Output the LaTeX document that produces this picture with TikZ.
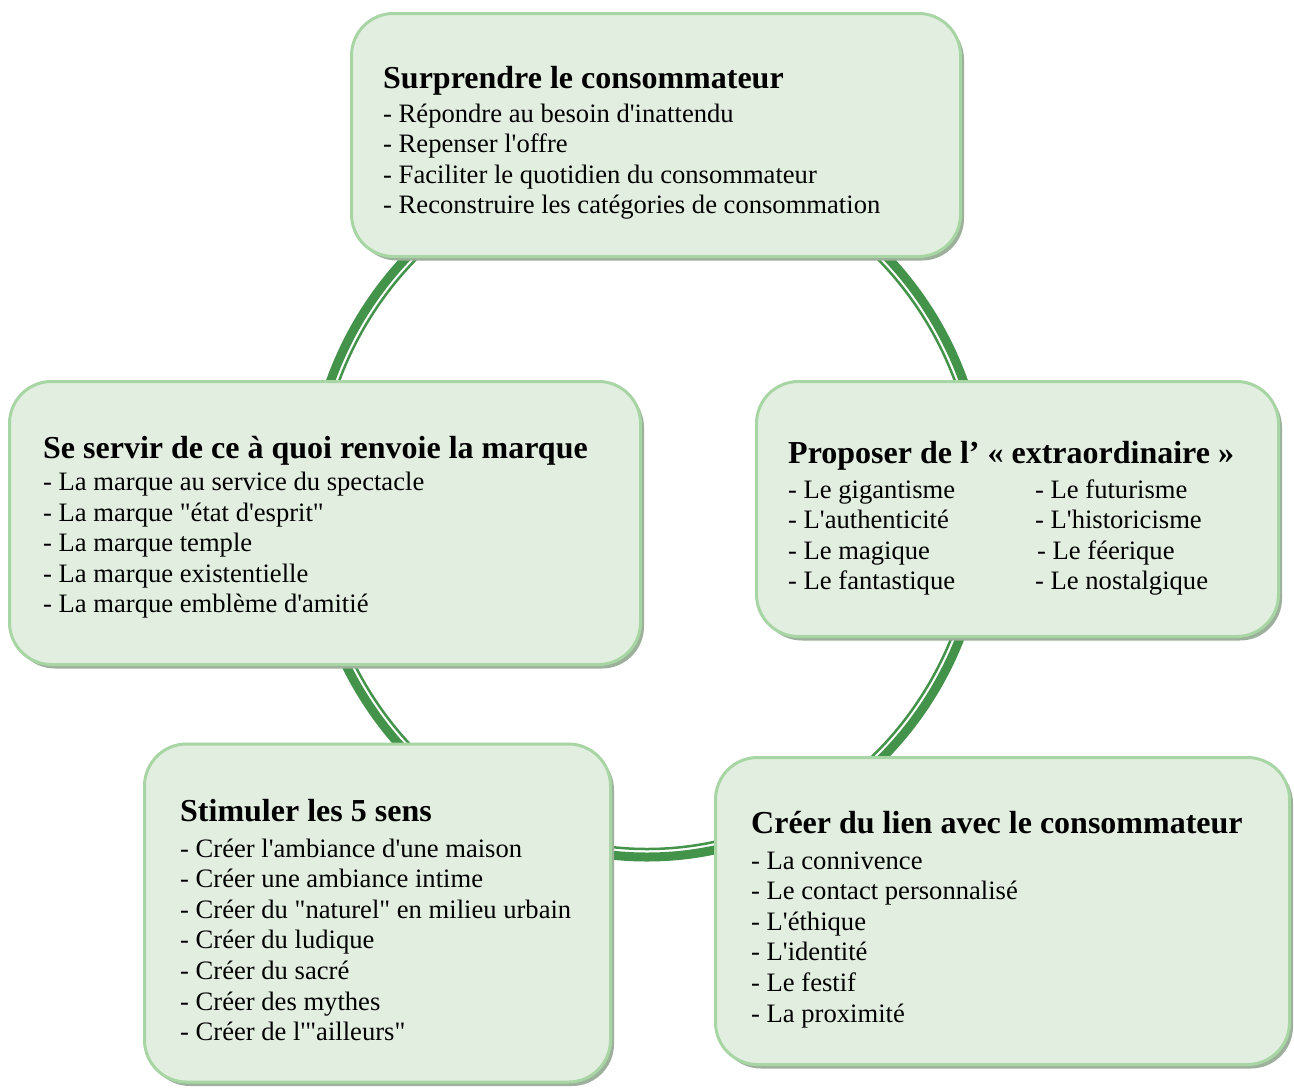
\documentclass[tikz,border=0pt]{standalone}
\usepackage{fontspec}
\setmainfont{Liberation Serif}[Ligatures=TeXOff]
\usetikzlibrary{shadows}
\definecolor{boxfill}{HTML}{E2EFE0}
\definecolor{boxline}{HTML}{A8D5A4}
\definecolor{ringc}{HTML}{43934A}
\definecolor{shadc}{HTML}{9DB09B}
\newcommand\ttlfont{\bfseries\fontsize{32}{36}\selectfont}
\newcommand\itmfont{\fontsize{26.6}{30.6}\selectfont}
\begin{document}
\begin{tikzpicture}[x=1pt,y=-1pt,
  box/.style={draw=boxline, line width=3pt, fill=boxfill, rounded corners=42pt,
    drop shadow={shadow xshift=3.5pt, shadow yshift=-4pt, fill=shadc, opacity=1}},
  ttl/.style={anchor=base west, inner sep=0pt, font=\ttlfont},
  itm/.style={anchor=base west, inner sep=0pt, font=\itmfont}]
\useasboundingbox[fill=white] (0,0) rectangle (1294,1088);
% ring
\draw[ringc, line width=9pt] (647,505) ellipse [x radius=338, y radius=352];
\draw[ringc, line width=2.5pt] (647,505) ellipse [x radius=330, y radius=344];
% boxes
\node[box, minimum width=609pt, minimum height=243pt] (b1) at (656,135) {};
\node[box, minimum width=631pt, minimum height=283pt] (b2) at (325,523) {};
\node[box, minimum width=522pt, minimum height=255pt] (b3) at (1017.5,509) {};
\node[box, minimum width=466pt, minimum height=338pt] (b4) at (377.5,913) {};
\node[box, minimum width=574pt, minimum height=307pt] (b5) at (1002.5,911) {};
% box 1
\node[ttl] (t1) at (383,88) {Surprendre le consommateur};
\node[itm] (t1a) at (383,122) {- Répondre au besoin d'inattendu};
\node[itm] (t1b) at (383,152.6) {- Repenser l'offre};
\node[itm] (t1c) at (383,183.2) {- Faciliter le quotidien du consommateur};
\node[itm] (t1d) at (383,213.8) {- Reconstruire les catégories de consommation};
% box 2
\node[ttl] (t2) at (43,458) {Se servir de ce à quoi renvoie la marque};
\node[itm] (t2a) at (43,490.5) {- La marque au service du spectacle};
\node[itm] (t2b) at (43,521.1) {- La marque "état d'esprit"};
\node[itm] (t2c) at (43,551.7) {- La marque temple};
\node[itm] (t2d) at (43,582.3) {- La marque existentielle};
\node[itm] (t2e) at (43,612.9) {- La marque emblème d'amitié};
% box 3
\node[ttl] (t3) at (788,463) {Proposer de l’ « extraordinaire »};
\node[itm] (t3a) at (788,498) {- Le gigantisme};
\node[itm] (t3b) at (788,528.6) {- L'authenticité};
\node[itm] (t3c) at (788,559.2) {- Le magique};
\node[itm] (t3d) at (788,589.8) {- Le fantastique};
\node[itm] (t3e) at (1035,498) {- Le futurisme};
\node[itm] (t3f) at (1035,528.6) {- L'historicisme};
\node[itm] (t3g) at (1037,559.2) {- Le féerique};
\node[itm] (t3h) at (1035,589.8) {- Le nostalgique};
% box 4
\node[ttl] (t4) at (180,821) {Stimuler les 5 sens};
\node[itm] (t4a) at (180,857) {- Créer l'ambiance d'une maison};
\node[itm] (t4b) at (180,887.6) {- Créer une ambiance intime};
\node[itm] (t4c) at (180,918.2) {- Créer du "naturel" en milieu urbain};
\node[itm] (t4d) at (180,948.8) {- Créer du ludique};
\node[itm] (t4e) at (180,979.4) {- Créer du sacré};
\node[itm] (t4f) at (180,1010) {- Créer des mythes};
\node[itm] (t4g) at (180,1040.6) {- Créer de l'"ailleurs"};
% box 5
\node[ttl] (t5) at (751,833) {Créer du lien avec le consommateur};
\node[itm] (t5a) at (751,869) {- La connivence};
\node[itm] (t5b) at (751,899.6) {- Le contact personnalisé};
\node[itm] (t5c) at (751,930.2) {- L'éthique};
\node[itm] (t5d) at (751,960.8) {- L'identité};
\node[itm] (t5e) at (751,991.4) {- Le festif};
\node[itm] (t5f) at (751,1022) {- La proximité};
\end{tikzpicture}
\end{document}
